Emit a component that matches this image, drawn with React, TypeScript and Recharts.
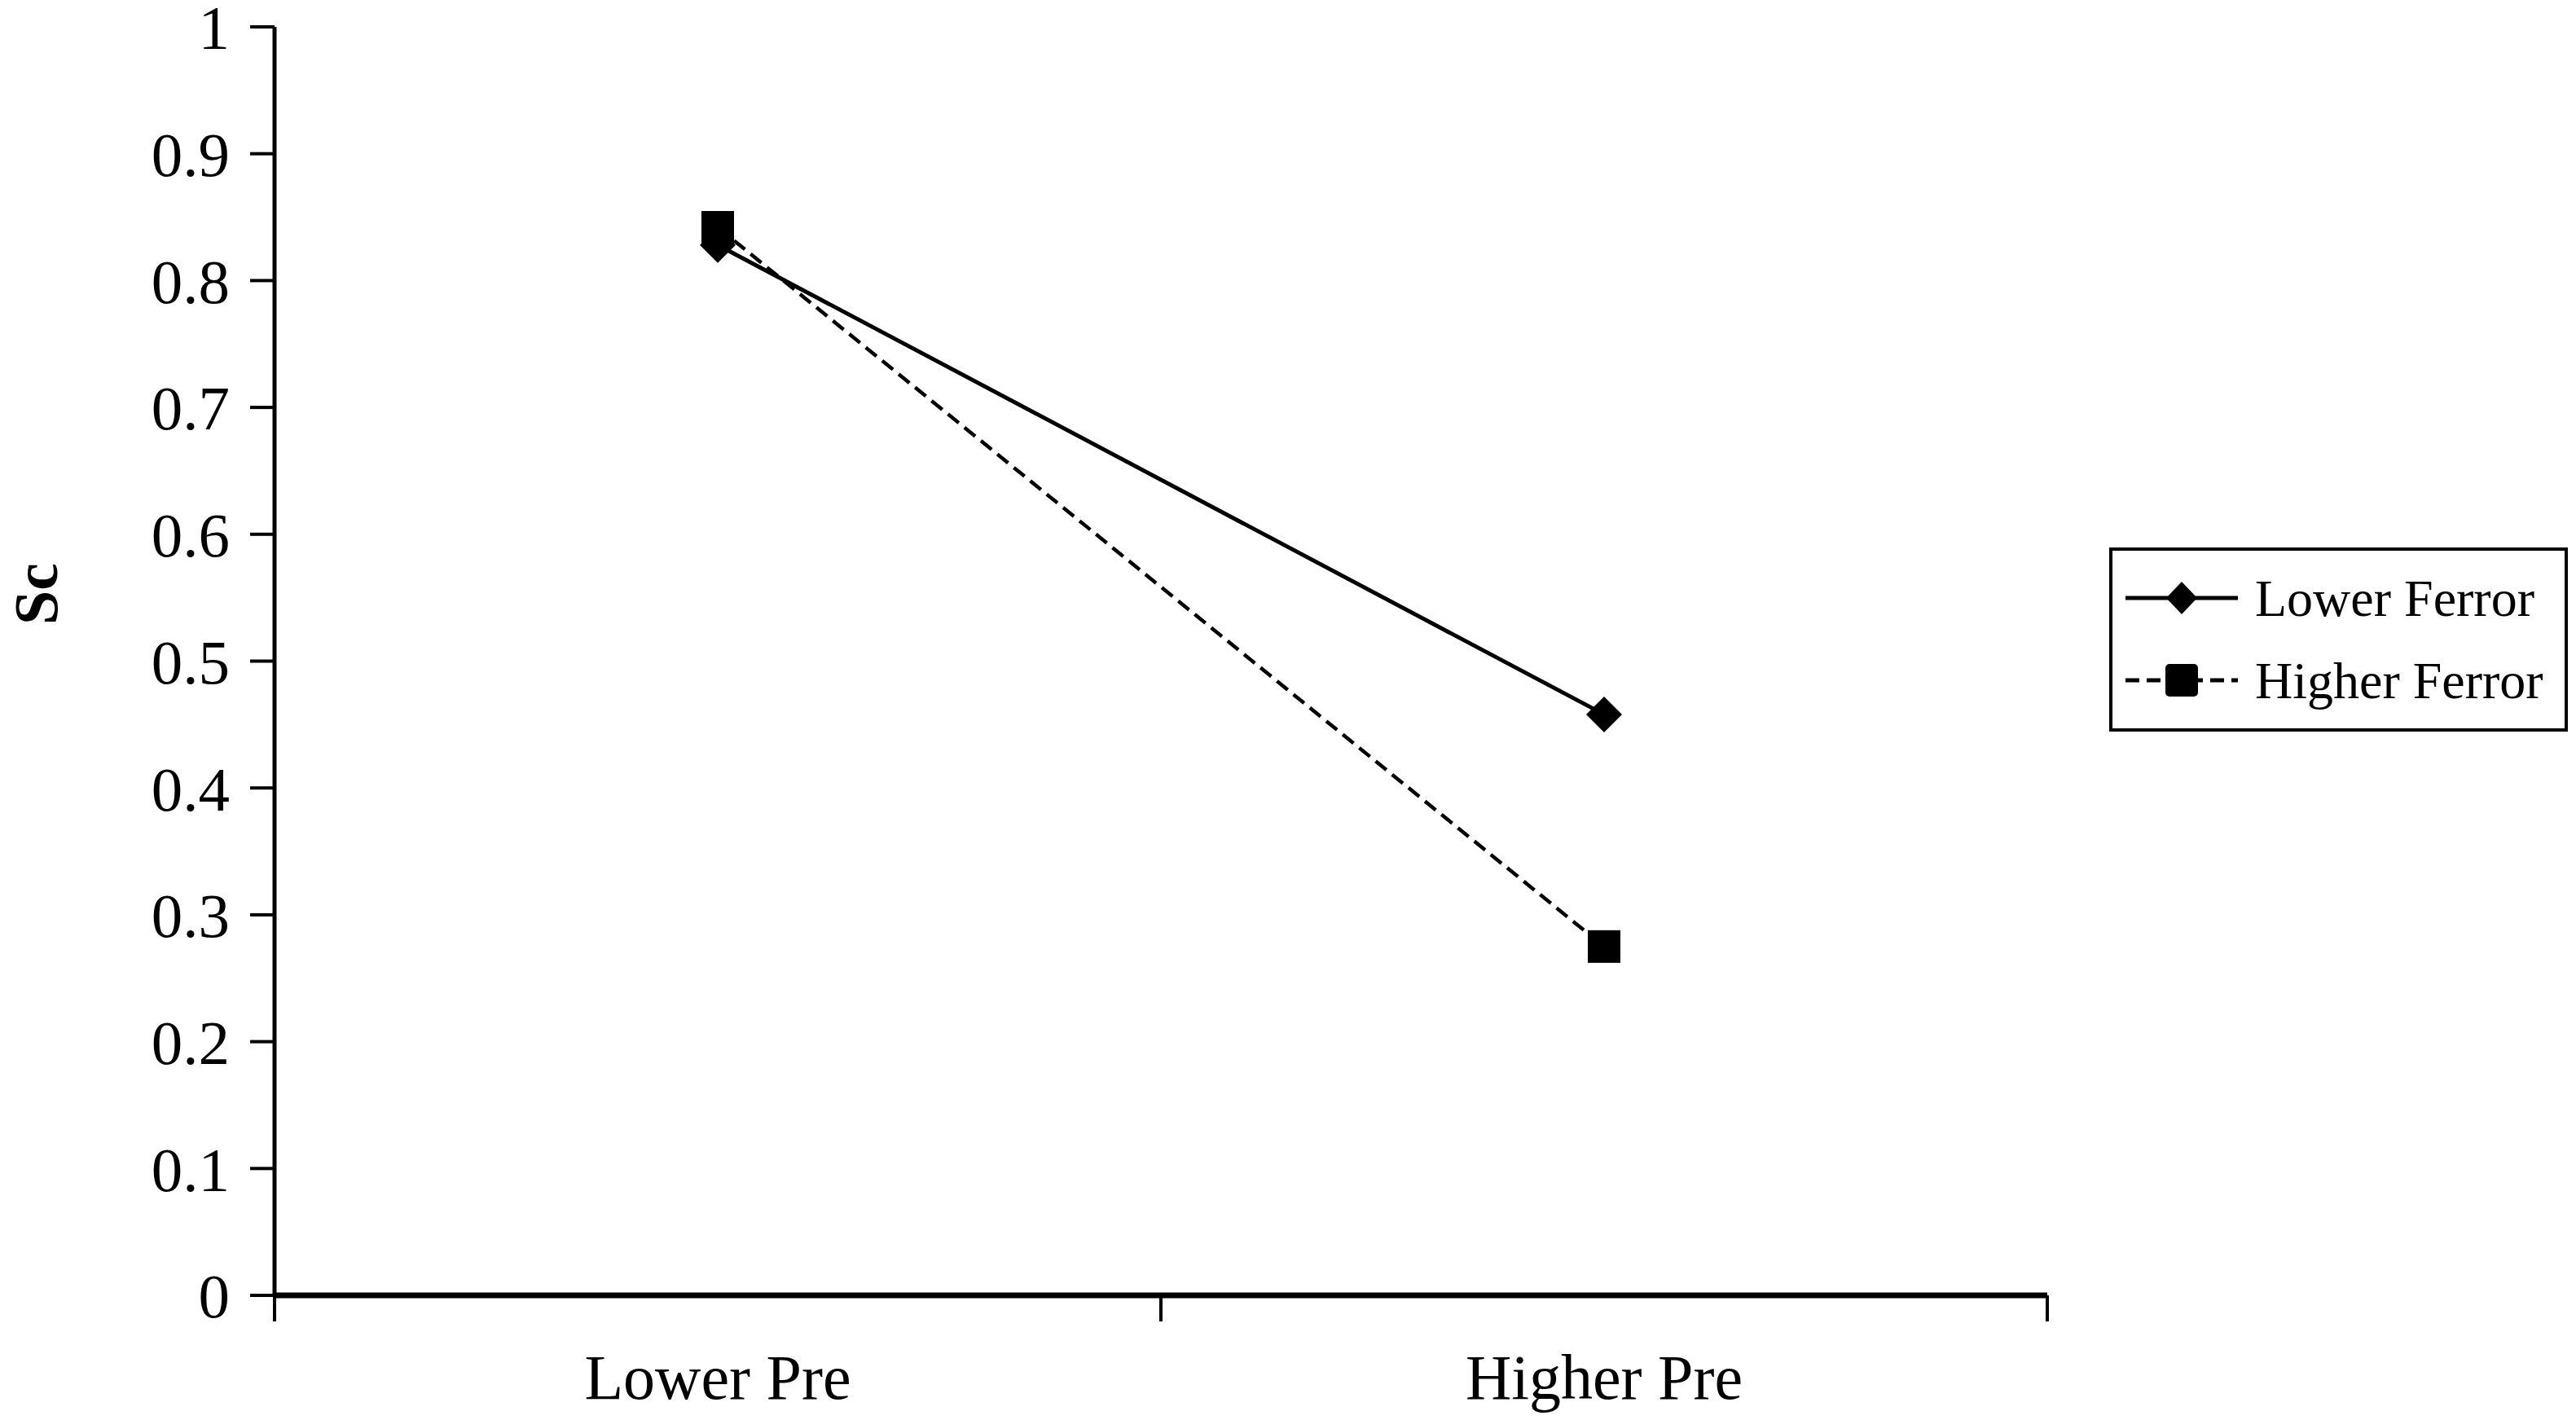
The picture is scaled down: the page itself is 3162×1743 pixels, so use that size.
import React from "react";
import { LineChart, Line, XAxis, YAxis, Legend } from "recharts";

const categories = ["Lower Pre", "Higher Pre"];
const lowerFerror = [0.828, 0.458];
const higherFerror = [0.842, 0.275];
const yTicks = [0, 0.1, 0.2, 0.3, 0.4, 0.5, 0.6, 0.7, 0.8, 0.9, 1];
const xTicks = [0, 0.5, 1, 1.5, 2];

const data = categories.map((name, i) => ({
  name,
  pos: i + 0.5,
  lower: lowerFerror[i],
  higher: higherFerror[i],
}));

const FONT = "'Liberation Serif', 'Times New Roman', serif";

const Diamond = (props: any) => {
  const { cx, cy, index } = props;
  const r = 22;
  return (
    <path
      key={`d-${index}`}
      d={`M${cx},${cy - r}L${cx + r},${cy}L${cx},${cy + r}L${cx - r},${cy}Z`}
      fill="#000"
    />
  );
};

const Square = (props: any) => {
  const { cx, cy, index } = props;
  const s = 20;
  return <rect key={`s-${index}`} x={cx - s} y={cy - s} width={s * 2} height={s * 2} fill="#000" />;
};

// tick marks sit on the band edges, labels in the band centres
const XTick = (props: any) => {
  const { x, y, payload } = props;
  const v = payload.value;
  if (Number.isInteger(v)) {
    return <line x1={x} y1={y} x2={x} y2={y + 32} stroke="#000" strokeWidth={4} />;
  }
  return (
    <text x={x} y={y + 127} textAnchor="middle" fill="#000" fontSize={78} fontFamily={FONT}>
      {categories[Math.floor(v)]}
    </text>
  );
};

const LegendBox = () => (
  <div
    style={{
      width: 563,
      height: 226,
      boxSizing: "border-box",
      border: "4px solid #000",
      background: "#fff",
      position: "relative",
    }}
  >
    <svg width={563} height={226} style={{ position: "absolute", left: -4, top: -4 }}>
      <line x1={20} y1={62} x2={158} y2={62} stroke="#000" strokeWidth={5} />
      <path d="M89,42L108,62L89,82L70,62Z" fill="#000" />
      <line x1={20} y1={163} x2={158} y2={163} stroke="#000" strokeWidth={5} strokeDasharray="17 9" />
      <rect x={69} y={143} width={40} height={40} rx={5} fill="#000" />
      <text x={179} y={84} fontSize={64} fontFamily={FONT} fill="#000">Lower Ferror</text>
      <text x={179} y={185} fontSize={64} fontFamily={FONT} fill="#000">Higher Ferror</text>
    </svg>
  </div>
);

export default function App() {
  return (
    <div style={{ position: "absolute", left: 0, top: 0, background: "#fff" }}>
      <LineChart
        width={3162}
        height={1743}
        data={data}
        margin={{ top: 33, right: 649, bottom: 0, left: 0 }}
        style={{ fontFamily: FONT }}
      >
        <XAxis
          xAxisId="top"
          orientation="top"
          type="number"
          domain={[0, 2]}
          height={0}
          tick={false}
          tickLine={false}
          axisLine={{ stroke: "#808080", strokeWidth: 3 }}
        />
        <YAxis
          yAxisId="right"
          orientation="right"
          domain={[0, 1]}
          width={0}
          tick={false}
          tickLine={false}
          axisLine={{ stroke: "#808080", strokeWidth: 3 }}
        />
        <XAxis
          dataKey="pos"
          type="number"
          domain={[0, categories.length]}
          ticks={xTicks}
          interval={0}
          height={153}
          tickSize={0}
          tickMargin={0}
          tickLine={false}
          tick={<XTick />}
          axisLine={{ stroke: "#000", strokeWidth: 7 }}
        />
        <YAxis
          domain={[0, 1]}
          ticks={yTicks}
          interval={0}
          width={337}
          tickSize={30}
          tickMargin={25}
          tickLine={{ stroke: "#000", strokeWidth: 4 }}
          axisLine={{ stroke: "#000", strokeWidth: 5 }}
          tick={{ fill: "#000", fontSize: 77, fontFamily: FONT }}
          tickFormatter={(v: number) => String(v)}
          label={{
            content: () => (
              <text
                x={70}
                y={729}
                transform="rotate(-90, 70, 729)"
                textAnchor="middle"
                fontSize={76}
                fontWeight="bold"
                fontFamily={FONT}
                fill="#000"
              >
                Sc
              </text>
            ),
          }}
        />
        <Line
          dataKey="lower"
          name="Lower Ferror"
          stroke="#000"
          strokeWidth={5}
          dot={Diamond}
          activeDot={false}
          isAnimationActive={false}
        />
        <Line
          dataKey="higher"
          name="Higher Ferror"
          stroke="#000"
          strokeWidth={4.5}
          strokeDasharray="17 9"
          dot={Square}
          activeDot={false}
          isAnimationActive={false}
        />
        <Legend
          layout="vertical"
          align="center"
          verticalAlign="middle"
          content={() => <LegendBox />}
          wrapperStyle={{ left: 2589, top: 672, width: 563, height: 226 }}
        />
      </LineChart>
    </div>
  );
}
